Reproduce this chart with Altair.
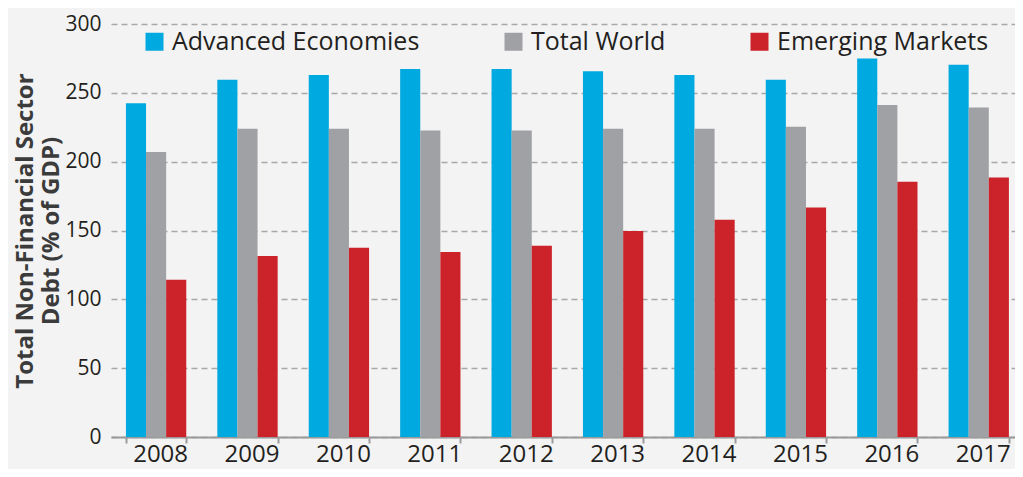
import altair as alt
import pandas as pd

years = ["2008", "2009", "2010", "2011", "2012", "2013", "2014", "2015", "2016", "2017"]
series_names = ["Advanced Economies", "Total World", "Emerging Markets"]
advanced = [242.5, 259.5, 262.9, 267.3, 267.3, 265.7, 262.9, 259.5, 274.9, 270.4]
world = [207.0, 224.0, 224.0, 222.6, 222.6, 224.0, 224.0, 225.4, 241.1, 239.4]
emerging = [114.2, 131.5, 137.4, 134.3, 139.0, 149.7, 157.8, 166.7, 185.5, 188.5]
colors = ["#00a9e0", "#a0a1a5", "#cc2229"]
y_ticks = [0, 50, 100, 150, 200, 250, 300]

rows = []
for name, vals in zip(series_names, [advanced, world, emerging]):
    for yr, v in zip(years, vals):
        rows.append({"year": yr, "series": name, "value": v})
df = pd.DataFrame(rows)

FONT = "Open Sans"
TXT = "#231f20"

chart = alt.Chart(df).mark_bar().encode(
    x=alt.X(
        "year:N", sort=years, title=None,
        scale=alt.Scale(paddingInner=0.34, paddingOuter=0.115, align=0.71),
        axis=alt.Axis(
            labelAngle=0, tickBand="extent", labelFontSize=24, labelFont=FONT,
            labelColor=TXT, domainColor="#9a9a9a", domainWidth=2,
            tickColor="#9a9a9a", tickWidth=2, tickSize=6,
            labelBaseline="alphabetic", labelPadding=18,
            labelOffset=4, grid=False,
        ),
    ),
    xOffset=alt.XOffset("series:N", sort=series_names,
                        scale=alt.Scale(paddingInner=0, paddingOuter=0)),
    y=alt.Y(
        "value:Q", scale=alt.Scale(domain=[0, 300]),
        axis=alt.Axis(
            values=y_ticks, title=["Total Non-Financial Sector", "Debt (% of GDP)"],
            titleFont=FONT, titleFontSize=24, titleFontWeight="bold",
            titleColor="#3b3b3b", titleLineHeight=26, titlePadding=1,
            labelFont=FONT, labelFontSize=21, labelColor=TXT, labelPadding=10,
            ticks=False, domain=False, grid=True, gridColor="#a8a8a8",
            gridDash=[6, 4], gridWidth=1.5,
        ),
    ),
    color=alt.Color(
        "series:N", sort=series_names,
        scale=alt.Scale(domain=series_names, range=colors),
        legend=alt.Legend(
            title=None, orient="none", legendX=31, legendY=5, direction="horizontal",
            symbolType="square", symbolSize=324, symbolStrokeWidth=0,
            labelFont=FONT, labelFontSize=25, labelColor=TXT, labelOffset=5,
            columnPadding=81, padding=0, labelLimit=400,
        ),
    ),
).properties(
    width=904, height=413,
    background="#f3f3f3",
    padding={"left": 103, "top": 16, "right": 0, "bottom": 32},
    autosize=alt.AutoSizeParams(type="none"),
).configure_view(stroke=None)

chart.save("out.html", embed_options={"renderer": "svg", "actions": False})
